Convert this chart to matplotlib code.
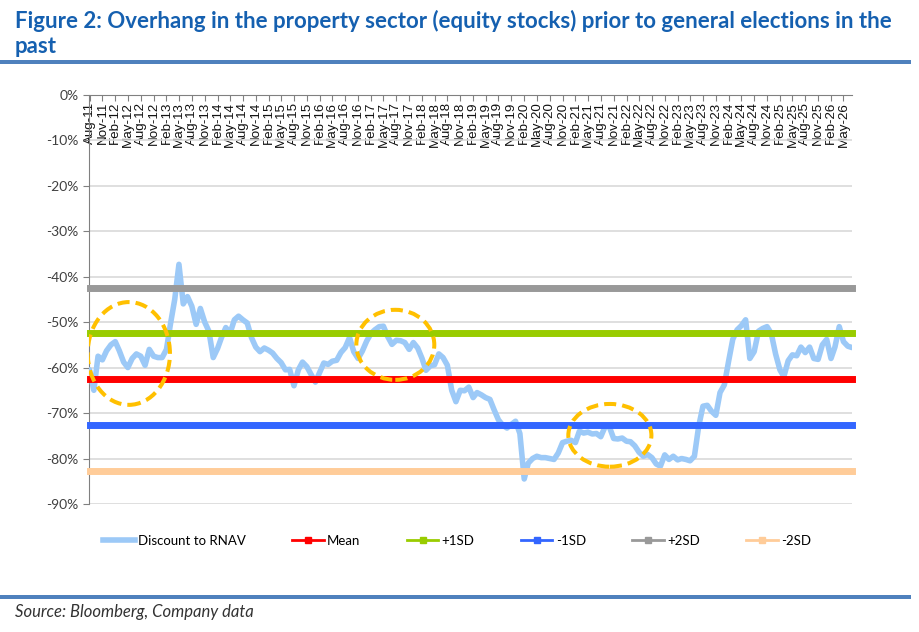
import matplotlib
matplotlib.use('Agg')
import matplotlib.pyplot as plt
import matplotlib.dates as mdates
from matplotlib.patches import Ellipse, Rectangle
from matplotlib.lines import Line2D
import pandas as pd
import numpy as np

# ---------------- data ----------------
dates = pd.date_range('2011-08-01', '2026-07-01', freq='MS')

discount = [
    -60.5, -65.0, -57.5, -58.3, -56.3, -55.0, -54.3, -56.3, -58.8, -60.0,
    -58.0, -57.0, -57.5, -59.5, -56.0, -57.5, -57.8, -57.8, -56.0, -50.5,
    -45.0, -37.3, -46.0, -44.4, -46.5, -50.5, -47.0, -50.0, -52.0, -57.8,
    -55.8, -53.4, -51.2, -52.5, -49.5, -48.7, -49.5, -50.2, -53.4, -55.5,
    -56.5, -55.7, -56.2, -56.8, -58.0, -58.9, -60.5, -60.4, -64.0, -60.5,
    -58.8, -59.8, -61.5, -63.2, -61.0, -59.0, -59.3, -58.6, -58.4, -56.7,
    -55.6, -53.4, -56.5, -58.0, -56.4, -54.2, -52.5, -51.7, -51.0, -50.9,
    -53.2, -54.9, -54.0, -54.1, -54.5, -56.0, -54.5, -55.7, -58.0, -60.6,
    -59.6, -59.4, -57.0, -57.8, -59.5, -65.0, -67.5, -65.0, -65.1, -64.3,
    -66.6, -65.5, -66.0, -66.6, -67.0, -69.3, -71.5, -72.7, -73.3, -72.5,
    -71.8, -74.5, -84.5, -81.0, -80.0, -79.5, -79.8, -79.8, -80.0, -80.2,
    -78.8, -76.5, -76.2, -76.0, -76.5, -74.0, -74.4, -74.2, -74.6, -74.5,
    -75.2, -73.0, -73.0, -75.6, -75.7, -75.5, -76.2, -76.3, -77.2, -78.6,
    -79.5, -79.1, -79.8, -81.2, -81.7, -79.2, -80.2, -79.5, -80.3, -80.0,
    -80.2, -80.5, -79.5, -73.0, -68.5, -68.3, -69.6, -70.5, -65.5, -63.8,
    -58.5, -53.8, -51.7, -50.8, -49.5, -58.0, -56.5, -52.0, -51.4, -51.0,
    -52.5, -57.0, -60.5, -62.0, -58.5, -57.2, -57.4, -55.5, -56.7, -55.5,
    -58.0, -58.2, -55.0, -53.8, -58.0, -55.5, -51.0, -54.3, -55.3, -55.6,
]

level_names = ['Mean', '+1SD', '-1SD', '+2SD', '-2SD']
level_values = [-62.6, -52.5, -72.7, -42.4, -82.8]
level_colors = ['#FF0000', '#99CC00', '#3366FF', '#999999', '#FFCC99']

tick_dates = pd.date_range('2011-08-01', '2026-05-01', freq='3MS')
tick_labels = [d.strftime('%b-%y') for d in tick_dates]
y_ticks = list(range(-90, 1, 10))
y_labels = [f'{v}%' for v in y_ticks]

# highlighted election periods: (centre date, centre value, width in months, height in %)
highlights = [
    ('2012-05-08', -56.9, 19.3, 22.6),
    ('2017-07-25', -55.0, 18.3, 15.4),
    ('2021-10-05', -74.9, 19.5, 13.8),
]

title_lines = ['Figure 2: Overhang in the property sector (equity stocks) prior to general elections in the',
               'past']
source = 'Source: Bloomberg, Company data'

# ---------------- figure ----------------
W, H = 920, 632
fig = plt.figure(figsize=(W / 100, H / 100), dpi=100)
ax = fig.add_axes([89.5 / W, 1 - 504 / H, (852 - 89.5) / W, (504 - 94.7) / H])

line_color = '#9CC9F7'
ax.plot(dates, discount, color=line_color, lw=4.0, solid_joinstyle='round',
        solid_capstyle='round', zorder=3)
for name, val, col in zip(level_names, level_values, level_colors):
    ax.plot(dates, np.full(len(dates), val), color=col, lw=5.0,
            solid_capstyle='projecting', clip_on=False, zorder=4)

for cdate, cval, wm, hv in highlights:
    cx = mdates.date2num(pd.Timestamp(cdate))
    e = Ellipse((cx, cval), wm * 30.44, hv, fill=False, ec='#FFC000', lw=2.9,
                ls=(0, (3.0, 1.5)), zorder=6)
    ax.add_patch(e)

ax.set_xlim(dates[0], dates[-1])
ax.set_ylim(-90, 0)

for s in ['top', 'right']:
    ax.spines[s].set_visible(False)
ax.spines['bottom'].set_position(('data', 0))
ax.spines['bottom'].set_color('#808080')
ax.spines['left'].set_color('#808080')
ax.spines['bottom'].set_zorder(7)

ax.set_xticks(tick_dates, tick_labels, rotation=90, fontsize=9.6,
              family='Liberation Sans', color='#111111')
ax.tick_params(axis='x', direction='out', length=4, pad=1, color='#808080')
ax.set_yticks(y_ticks, y_labels, fontsize=10, family='Lato', color='#404040')
ax.tick_params(axis='y', direction='out', length=4, pad=4, color='#808080')

ax.yaxis.grid(True, color='#d9d9d9', lw=1.2)
ax.set_axisbelow(True)

# legend
handles = [Line2D([], [], color=line_color, lw=4)]
for col in level_colors:
    handles.append(Line2D([], [], color=col, lw=2, marker='s', markersize=5))
fig.legend(handles, ['Discount to RNAV'] + level_names, loc='center',
           bbox_to_anchor=(457 / W, 1 - 541 / H), ncol=6, frameon=False,
           prop={'family': 'Lato', 'size': 9.5}, handlelength=2.4,
           handletextpad=0.25, columnspacing=3.5)

# title, rules, source
for i, line in enumerate(title_lines):
    fig.text(15 / W, 1 - (28 + 25 * i) / H, line, va='baseline', ha='left',
             fontsize=16, fontweight='bold', color='#1560B0', family='Lato')
fig.add_artist(Rectangle((0, 1 - 64 / H), 0.99, 4 / H, transform=fig.transFigure,
                         color='#4F81BD', lw=0))
fig.add_artist(Rectangle((0, 1 - 599 / H), 0.99, 4 / H, transform=fig.transFigure,
                         color='#4F81BD', lw=0))
fig.text(15 / W, 1 - 612 / H, source, va='center', ha='left', fontsize=12,
         style='italic', color='#333333', family='Lato')

fig.savefig('out.png', dpi=100)
